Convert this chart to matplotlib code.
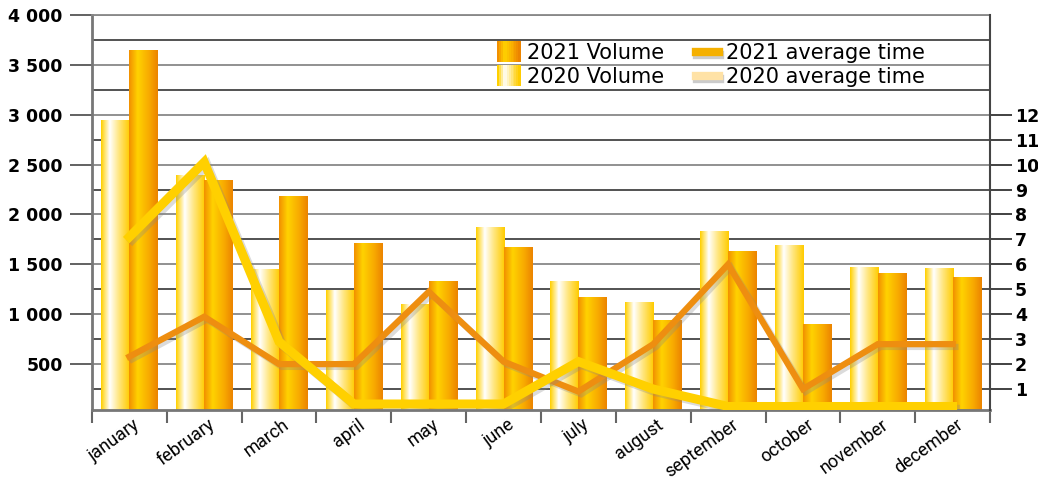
import numpy as np
import matplotlib
matplotlib.use("Agg")
import matplotlib.pyplot as plt
import matplotlib.patheffects as pe
from matplotlib.colors import LinearSegmentedColormap
from matplotlib.legend_handler import HandlerBase
from matplotlib.lines import Line2D
from matplotlib.patches import Rectangle
import matplotlib.transforms as mtransforms

# data
months = ["january", "february", "march", "april", "may", "june", "july",
          "august", "september", "october", "november", "december"]
vol_2020 = [2940, 2390, 1450, 1240, 1100, 1870, 1330, 1120, 1830, 1690, 1470, 1460]
vol_2021 = [3640, 2340, 2180, 1710, 1330, 1670, 1170, 940, 1630, 900, 1410, 1370]
time_2020 = [7.1, 10.1, 2.9, 0.4, 0.4, 0.4, 2.1, 1.0, 0.3, 0.3, 0.3, 0.3]
time_2021 = [2.3, 3.9, 2.0, 2.0, 4.9, 2.1, 0.9, 2.8, 6.0, 1.0, 2.8, 2.8]
left_ticks = [500, 1000, 1500, 2000, 2500, 3000, 3500, 4000]
right_ticks = list(range(1, 13))

# gradients (left -> right across a bar)
cmap_2020 = LinearSegmentedColormap.from_list(
    "g2020", [(0, "#FFD000"), (0.3, "#FFFFFF"), (0.62, "#FFE680"), (1, "#FFCC00")])
cmap_2021 = LinearSegmentedColormap.from_list(
    "g2021", [(0, "#F29000"), (0.3, "#FFD200"), (0.7, "#F8AA00"), (1, "#EC8400")])
grad = np.linspace(0, 1, 64).reshape(1, -1)


def fill_gradient(ax, bars, cmap):
    for b in bars:
        x, y = b.get_x(), b.get_y()
        w, h = b.get_width(), b.get_height()
        ax.imshow(grad, cmap=cmap, aspect="auto", extent=(x, x + w, y, y + h),
                  zorder=2, interpolation="bilinear")
        b.set_facecolor("none")


class GradHandler(HandlerBase):
    # square of vertical colour strips for the legend
    def __init__(self, cmap):
        super().__init__()
        self.cmap = cmap

    def create_artists(self, legend, orig, xd, yd, width, height, fontsize, trans):
        n = 12
        h = height * 1.45
        arts = []
        for i in range(n):
            r = Rectangle((-xd + i * width / n, -yd - 2), width / n + 0.3, h,
                          facecolor=self.cmap(i / (n - 1)), edgecolor="none",
                          transform=trans)
            arts.append(r)
        return arts


plt.rcParams["font.family"] = ["DejaVu Sans"]
fig = plt.figure(figsize=(10.38, 4.82), dpi=100)
ax = fig.add_axes([0.0886, 0.1494, 0.8652, 0.8195])
x = np.arange(len(months))
w = 0.375

# gridlines every 250
for v in range(250, 4001, 250):
    ax.axhline(v, color="#444444" if v % 500 else "#888888", lw=1.3, zorder=0)

b20 = ax.bar(x - w / 2, vol_2020, width=w, zorder=2)
b21 = ax.bar(x + w / 2, vol_2021, width=w, zorder=2)
fill_gradient(ax, b20, cmap_2020)
fill_gradient(ax, b21, cmap_2021)

ax.set_xlim(-0.5, len(months) - 0.5)
ax.set_ylim(40, 4000)
ax.set_yticks(left_ticks)
ax.set_yticklabels([f"{v:,}".replace(",", " ") for v in left_ticks],
                   fontsize=12.5, fontweight="bold")
ax.tick_params(axis="y", length=16, width=1.3, color="#555555", pad=5)

# month boundaries as minor ticks, labels at centres
ax.set_xticks(np.arange(-0.5, len(months), 1), minor=True)
ax.set_xticks(x)
ax.set_xticklabels(months, rotation=36, ha="right", fontsize=13,
                   family=["Roboto", "DejaVu Sans"])
ax.tick_params(axis="x", which="major", length=0, pad=4)
ax.tick_params(axis="x", which="minor", length=9, width=1.5, color="#666666")
offset = mtransforms.ScaledTranslation(14 / 100, 0, fig.dpi_scale_trans)
for lab in ax.get_xticklabels():
    lab.set_transform(lab.get_transform() + offset)

for s in ["left", "bottom"]:
    ax.spines[s].set_color("#777777")
    ax.spines[s].set_linewidth(2)
ax.spines["top"].set_color("#888888")
ax.spines["top"].set_linewidth(1.3)
ax.spines["right"].set_visible(False)

ax2 = ax.twinx()
ax2.set_ylim(40 / 250, 16)
ax2.set_yticks(right_ticks)
ax2.set_yticklabels([str(v) for v in right_ticks], fontsize=12.5, fontweight="bold")
ax2.tick_params(axis="y", length=16, width=1.3, color="#333333", pad=2)
for s in ["left", "bottom", "top"]:
    ax2.spines[s].set_visible(False)
ax2.spines["right"].set_color("#444444")
ax2.spines["right"].set_linewidth(1.5)

shadow = [pe.SimpleLineShadow(offset=(2, -2), shadow_color="#888888", alpha=0.3),
          pe.Normal()]
ax2.plot(x, time_2021, color="#EE8E10", lw=4.5, solid_joinstyle="miter",
         path_effects=shadow, zorder=3)
ax2.plot(x, time_2020, color="#FFD000", lw=6.5, solid_joinstyle="miter",
         path_effects=shadow, zorder=4)

h21 = Rectangle((0, 0), 1, 1)
h20 = Rectangle((0, 0), 1, 1)
lt21 = Line2D([], [], color="#F5B000", lw=6,
              path_effects=[pe.SimpleLineShadow(offset=(1, -2), shadow_color="#999999", alpha=0.5),
                            pe.Normal()])
lt20 = Line2D([], [], color="#FFE2A6", lw=6,
              path_effects=[pe.SimpleLineShadow(offset=(1, -2), shadow_color="#999999", alpha=0.5),
                            pe.Normal()])
leg = ax2.legend([h21, h20, lt21, lt20],
                 ["2021 Volume", "2020 Volume", "2021 average time", "2020 average time"],
                 handler_map={h21: GradHandler(cmap_2021), h20: GradHandler(cmap_2020)},
                 ncol=2, frameon=False, loc="upper left",
                 bbox_to_anchor=(0.469, 0.932), bbox_transform=fig.transFigure,
                 fontsize=15, handlelength=1.1, handletextpad=0.35,
                 columnspacing=1.5, labelspacing=0.2, borderpad=0)

fig.savefig("out.png", dpi=100)
